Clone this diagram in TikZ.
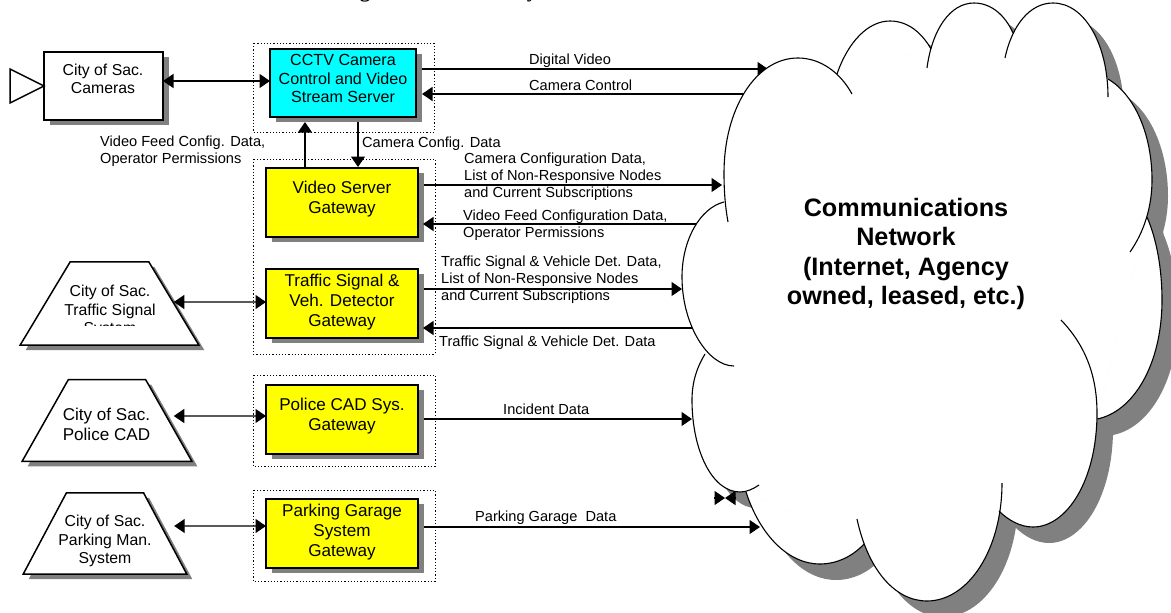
\documentclass[tikz,border=0pt]{standalone}
\usepackage{fontspec}
\setmainfont{Liberation Sans}
\newfontfamily\titlefont{Liberation Serif}
\usetikzlibrary{arrows.meta,shadows,shapes.geometric}

\definecolor{shadowgray}{HTML}{808080}
\definecolor{serverblue}{HTML}{00FFFF}
\definecolor{gateyellow}{HTML}{FFFF00}

\tikzset{
  boxshadow/.style={drop shadow={shadow xshift=5.5pt,shadow yshift=-5pt,fill=shadowgray,opacity=1}},
  sysbox/.style={draw,line width=1.5pt,rectangle,inner sep=0pt,outer sep=0pt,fill=white,boxshadow},
  gatebox/.style={sysbox,fill=gateyellow,minimum width=152pt,minimum height=69pt},
  trapbox/.style={draw,line width=1.5pt,trapezium,inner sep=0pt,outer sep=0pt,fill=white,boxshadow,minimum height=75pt},
  boxtext/.style={inner sep=0pt,align=center,font=\fontsize{17.1}{20}\selectfont},
  systext/.style={inner sep=0pt,align=center,font=\fontsize{15.8}{18.6}\selectfont},
  flowtext/.style={inner sep=0pt,anchor=west,align=left,font=\fontsize{14.6}{16.8}\selectfont},
  groupbox/.style={line width=1pt,dash pattern=on 1.2pt off 2pt},
  flow/.style={line width=1.4pt,-{Triangle[length=10.5pt,width=14pt]}},
  flowboth/.style={line width=1.4pt,{Triangle[length=10.5pt,width=14pt]}-{Triangle[length=10.5pt,width=14pt]}},
  lobe/.style={line width=1.1pt}
}

\newcommand{\lobeA}{(728,222) .. controls (725,205) and (724,190) .. (724,173) .. controls (724,110) and (755,58) .. (798,58) .. controls (820,58) and (840,72) .. (852,94)}
\newcommand{\lobeB}{(837,74) .. controls (848,42) and (868,21) .. (890,21) .. controls (908,21) and (922,33) .. (931,49)}
\newcommand{\lobeC}{(927,68) .. controls (932,30) and (950,3) .. (974,3) .. controls (991,3) and (1005,15) .. (1013,33)}
\newcommand{\lobeD}{(1005,58) .. controls (1012,25) and (1030,3) .. (1053,3) .. controls (1085,3) and (1108,45) .. (1108,97)}
\newcommand{\lobeE}{(1108,79) .. controls (1135,95) and (1152,135) .. (1152,180) .. controls (1152,207) and (1144,232) .. (1130,252)}
\newcommand{\lobeF}{(1147,217) .. controls (1157,240) and (1162,270) .. (1162,300) .. controls (1162,365) and (1133,412) .. (1097,419)}
\newcommand{\lobeG}{(1061,320) .. controls (1085,345) and (1097,375) .. (1097,413) .. controls (1097,480) and (1067,527) .. (1033,527) .. controls (1020,527) and (1008,520) .. (999,511)}
\newcommand{\lobeH}{(1002,483) .. controls (1002,550) and (968,601) .. (927,601) .. controls (895,601) and (868,570) .. (857,519)}
\newcommand{\lobeI}{(864,544) .. controls (852,557) and (836,564) .. (820,564) .. controls (788,564) and (760,535) .. (746,492)}
\newcommand{\lobeJ}{(759,485) .. controls (753,489) and (747,492) .. (740,492) .. controls (712,492) and (692,450) .. (692,400) .. controls (692,382) and (697,367) .. (705,354)}
\newcommand{\lobeK}{(734,366) .. controls (708,366) and (682,325) .. (682,277) .. controls (682,240) and (700,208) .. (724,202)}
\newcommand{\cloudcore}{(724,202) -- (837,74) -- (931,49) -- (1013,33) -- (1108,79) -- (1147,217) -- (1097,419) -- (999,511) -- (864,544) -- (746,492) -- (705,354) -- cycle}

\begin{document}
\begin{tikzpicture}[x=1pt,y=-1pt]
\useasboundingbox (0,0) rectangle (1171,613);

\node[font=\titlefont\bfseries\fontsize{21}{21}\selectfont,anchor=base,inner sep=0pt] (titleg) at (365,-2.5) {g};
\node[font=\titlefont\bfseries\fontsize{21}{21}\selectfont,anchor=base,inner sep=0pt] (titley) at (532,-2.5) {y};

\draw[groupbox] (253,43) rectangle (434,132);
\draw[groupbox] (253,159) rectangle (435,354);
\draw[groupbox] (253,375) rectangle (435,466);
\draw[groupbox] (253,490) rectangle (435,581);

\node[sysbox,minimum width=119pt,minimum height=68pt] (cameras) at (103.5,86) {};
\node[systext] (camerastext) at (103,79) {City of Sac.\\Cameras};
\draw[line width=1.5pt,fill=white] (44,86) -- (10,69) -- (10,103) -- cycle;

\node[trapbox,trapezium angle=59,minimum width=179pt] (trafficsys) at (109.5,303.5) {\phantom{x}};
\begin{scope}
\clip (50,280) rectangle (170,325);
\node[systext] (trafficsystext) at (110,311) {City of Sac.\\Traffic Signal\\System};
\end{scope}
\node[trapbox,trapezium angle=60.5,minimum width=170pt] (policesys) at (107,420.5) {\phantom{x}};
\node[boxtext] (policesystext) at (106.5,424.5) {City of Sac.\\Police CAD};
\node[trapbox,trapezium angle=62,minimum width=164pt] (parkingsys) at (105,533.5) {\phantom{x}};
\node[systext] (parkingsystext) at (105,541) {City of Sac.\\Parking Man.\\System};

\node[sysbox,fill=serverblue,minimum width=146pt,minimum height=68pt] (cctv) at (343,83) {};
\node[boxtext,font=\fontsize{16.1}{18.7}\selectfont] (cctvtext) at (343,78.5) {CCTV Camera\\Control and Video\\Stream Server};
\node[gatebox] (video) at (342,202.5) {};
\node[boxtext] (videotext) at (342,199) {Video Server\\Gateway};
\node[gatebox] (traffic) at (342,303.5) {};
\node[boxtext] (traffictext) at (342,302) {Traffic Signal \&\\Veh. Detector\\Gateway};
\node[gatebox] (police) at (342,419.5) {};
\node[boxtext] (policetext) at (342,416) {Police CAD Sys.\\Gateway};
\node[gatebox] (parking) at (342,533.5) {};
\node[boxtext] (parkingtext) at (342,532.5) {Parking Garage\\System\\Gateway};

\coordinate (digitalend) at (768,69);
\coordinate (controlstart) at (770,94);
\coordinate (configend) at (722,185);
\coordinate (feedstart) at (730,224);
\coordinate (signalend) at (682,289);
\coordinate (detstart) at (720,328);
\coordinate (incidentend) at (692,419);
\coordinate (garageend) at (760,527);

\draw[flowboth] (cameras.east |- 0,81) -- (cctv.west |- 0,81);
\draw[flowboth] ([shift={(0,-1.5)}]trafficsys.east) -- ([shift={(0,-1.5)}]traffic.west);
\draw[flowboth] ([shift={(5,-4.5)}]policesys.east) -- ([shift={(0,-3.5)}]police.west);
\draw[flowboth] ([shift={(9,-7.5)}]parkingsys.east) -- ([shift={(0,-7.5)}]parking.west);

\draw[flow] ([shift={(-37,0)}]video.north) -- ([shift={(-38,5)}]cctv.south);
\draw[flow] ([shift={(15,5)}]cctv.south) -- ([shift={(16,-1)}]video.north);

\draw[flow] ([shift={(6,-14)}]cctv.east) -- (digitalend);
\draw[flow] (controlstart) -- ([shift={(6,11)}]cctv.east);
\draw[flow] ([shift={(6,-17.5)}]video.east) -- (configend);
\draw[flow] (feedstart) -- ([shift={(5,21.5)}]video.east);
\draw[flow] ([shift={(6,-14.5)}]traffic.east) -- (signalend);
\draw[flow] (detstart) -- ([shift={(5,24.5)}]traffic.east);
\draw[flow] ([shift={(6,-0.5)}]police.east) -- (incidentend);
\draw[flow] ([shift={(6,-6.5)}]parking.east) -- (garageend);

\node[flowtext] (digitallabel) at (529,61) {Digital Video};
\node[flowtext] (controllabel) at (529,85) {Camera Control};
\node[flowtext] (feedlabel) at (100,151.5) {Video Feed Config. Data,\\Operator Permissions};
\node[flowtext] (configlabel) at (362,144) {Camera Config. Data};
\node[flowtext] (configdata) at (464,177) {Camera Configuration Data,\\List of Non-Responsive Nodes\\and Current Subscriptions};
\node[flowtext] (feeddata) at (463,225.5) {Video Feed Configuration Data,\\Operator Permissions};
\node[flowtext] (signaldata) at (441,279.5) {Traffic Signal \& Vehicle Det. Data,\\List of Non-Responsive Nodes\\and Current Subscriptions};
\node[flowtext] (detdata) at (439,343) {Traffic Signal \& Vehicle Det. Data};
\node[flowtext] (incidentlabel) at (503,409) {Incident Data};
\node[flowtext] (garagelabel) at (475,518) {Parking Garage\ \ Data};

\begin{scope}[shift={(16,16)}]
\foreach \lobepath in {\lobeA,\lobeB,\lobeC,\lobeD,\lobeE,\lobeF,\lobeG,\lobeH,\lobeI,\lobeJ,\lobeK}
  \fill[shadowgray] \lobepath -- cycle;
\filldraw[shadowgray,line width=0.8pt,line join=round] \cloudcore;
\end{scope}

\foreach \lobepath in {\lobeA,\lobeB,\lobeC,\lobeD,\lobeE,\lobeF,\lobeG,\lobeH,\lobeI,\lobeJ,\lobeK}
  \fill[white] \lobepath -- cycle;
\filldraw[white,line width=0.8pt,line join=round] \cloudcore;
\foreach \lobepath in {\lobeA,\lobeB,\lobeC,\lobeD,\lobeE,\lobeF,\lobeG,\lobeH,\lobeI,\lobeJ,\lobeK}
  \draw[lobe] \lobepath;

\node[inner sep=0pt,align=center,font=\bfseries\fontsize{25.2}{29.3}\selectfont] (network) at (906,254) {Communications\\Network\\(Internet, Agency\\owned, leased, etc.)};

\coordinate (bowleft) at (714,498);
\coordinate (bowright) at (735.5,498);
\coordinate (bowmid) at (725,498);
\draw[flow] (bowleft) -- (bowmid);
\draw[flow] (bowright) -- (bowmid);
\end{tikzpicture}
\end{document}
